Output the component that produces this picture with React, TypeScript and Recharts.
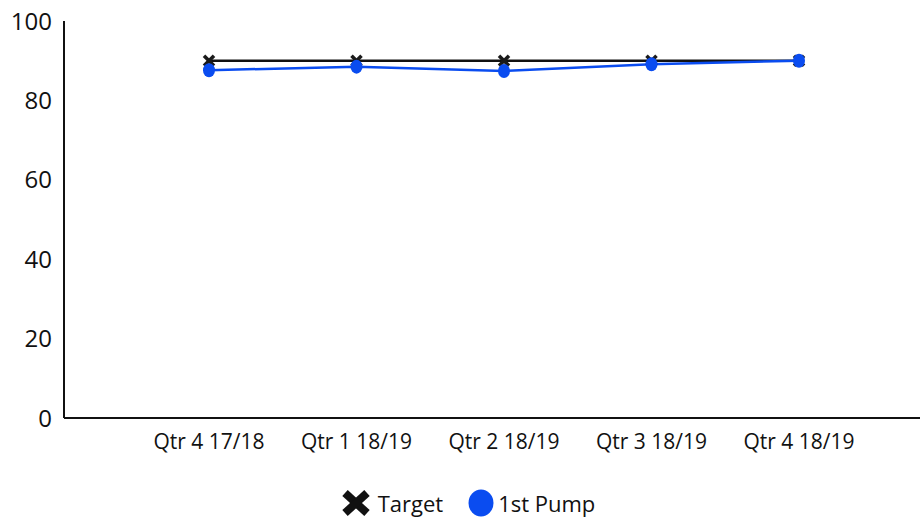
import React from "react";
import { LineChart, Line, XAxis, YAxis, Legend } from "recharts";

const categories = ["Qtr 4 17/18", "Qtr 1 18/19", "Qtr 2 18/19", "Qtr 3 18/19", "Qtr 4 18/19"];
const targetValues = [90, 90, 90, 90, 90];
const pumpValues = [87.6, 88.5, 87.4, 89.1, 90];
const yTicks = [0, 20, 40, 60, 80, 100];

const data = categories.map((c, i) => ({ name: c, target: targetValues[i], pump: pumpValues[i] }));

const FONT = "'Open Sans', sans-serif";

const XDot = (props: any) => {
  const { cx, cy } = props;
  if (cx == null || cy == null) return null;
  const s = 5;
  return (
    <g>
      <line x1={cx - s} y1={cy - s} x2={cx + s} y2={cy + s} stroke="#1a1a1a" strokeWidth={3.5} />
      <line x1={cx - s} y1={cy + s} x2={cx + s} y2={cy - s} stroke="#1a1a1a" strokeWidth={3.5} />
    </g>
  );
};

const CircleDot = (props: any) => {
  const { cx, cy } = props;
  if (cx == null || cy == null) return null;
  return <ellipse cx={cx} cy={cy} rx={6} ry={7} fill="#0a4cf0" />;
};

const LegendContent = () => (
  <div style={{ display: "flex", justifyContent: "center", alignItems: "center", fontFamily: FONT, fontSize: 22, color: "#111", paddingTop: 20, marginLeft: 16 }}>
    <svg width={30} height={28} style={{ marginRight: 7 }}>
      <line x1={4} y1={4} x2={26} y2={24} stroke="#111" strokeWidth={8} />
      <line x1={4} y1={24} x2={26} y2={4} stroke="#111" strokeWidth={8} />
    </svg>
    <span style={{ marginRight: 25 }}>Target</span>
    <svg width={26} height={28} style={{ marginRight: 4 }}>
      <ellipse cx={13} cy={14} rx={12.5} ry={13.5} fill="#0a4cf0" />
    </svg>
    <span>1st Pump</span>
  </div>
);

export default function App() {
  return (
    <div style={{ position: "absolute", left: 0, top: 0 }}>
      <LineChart width={923} height={520} data={data} margin={{ top: 21, right: 3, bottom: 0, left: 0 }}>
        <XAxis
          dataKey="name"
          axisLine={{ stroke: "#111", strokeWidth: 2 }}
          tickLine={false}
          padding={{ left: 145, right: 121 }}
          height={50}
          tick={{ fill: "#111", fontSize: 21, fontFamily: FONT }}
          tickMargin={10}
          interval={0}
        />
        <YAxis
          domain={[0, 100]}
          ticks={yTicks}
          width={64}
          axisLine={{ stroke: "#111", strokeWidth: 2 }}
          tickLine={false}
          tick={{ fill: "#111", fontSize: 24, fontFamily: FONT }}
          tickMargin={6}
        />
        <Legend verticalAlign="bottom" height={52} content={<LegendContent />} />
        <Line dataKey="target" stroke="#111" strokeWidth={2.5} dot={<XDot />} activeDot={false} isAnimationActive={false} />
        <Line dataKey="pump" stroke="#0a4cf0" strokeWidth={2.5} dot={<CircleDot />} activeDot={false} isAnimationActive={false} />
      </LineChart>
    </div>
  );
}
